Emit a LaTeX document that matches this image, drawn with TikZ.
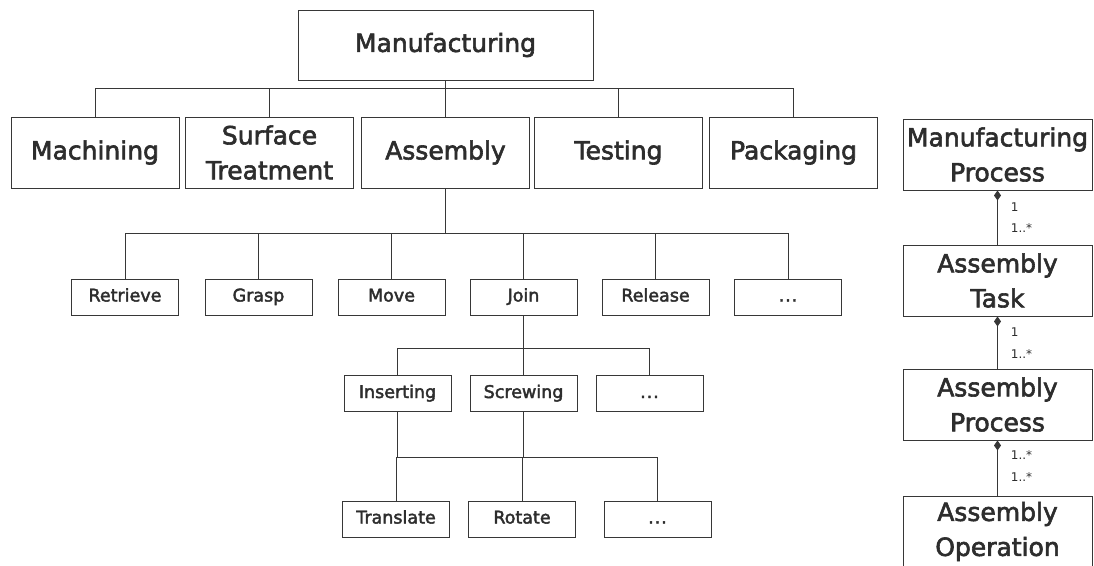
\documentclass[tikz,border=0pt]{standalone}
\usepackage{fontspec}
\setmainfont{DejaVu Sans}
\newfontfamily\boxfont{DejaVu Sans}[FakeBold=2.4]
\usepackage{tikz}
\usetikzlibrary{shapes,arrows.meta,positioning,calc}
\usepackage{xcolor}
\definecolor{boxline}{RGB}{55,55,55}
\definecolor{boxtext}{RGB}{45,45,45}

\begin{document}
\begin{tikzpicture}[x=1pt, y=-1pt,
    box/.style={rectangle, draw=boxline, line width=0.9pt, text=boxtext, align=center, inner sep=0pt},
    bigbox/.style={box, minimum width=168pt, minimum height=71pt, font=\boxfont\fontsize{25}{35}\selectfont},
    smallbox/.style={box, minimum width=107pt, minimum height=36pt, text height=13pt, text depth=4pt, font=\boxfont\fontsize{17.5}{21}\selectfont},
    umlbox/.style={box, minimum width=189pt, minimum height=71pt, font=\boxfont\fontsize{25}{35}\selectfont},
    link/.style={draw=boxline, line width=0.9pt},
    part/.style={link, {Diamond[length=10pt,width=7pt]}-},
    mult/.style={font=\fontsize{12}{14}\selectfont, text=boxtext, inner sep=0pt, right=13pt}
]
    \clip (0,0) rectangle (1094,565);

    \node[box, minimum width=295pt, minimum height=70pt, font=\boxfont\fontsize{25}{35}\selectfont] (mfg) at (445.5,45) {Manufacturing};

    \node[bigbox] (machining) at (95,152.5) {Machining};
    \node[bigbox] (surface) at (269.5,152.5) {Surface\\Treatment};
    \node[bigbox] (assembly) at (445.5,152.5) {Assembly};
    \node[bigbox] (testing) at (618.5,152.5) {Testing};
    \node[bigbox] (packaging) at (793.5,152.5) {Packaging};

    \node[smallbox] (retrieve) at (125,297) {Retrieve};
    \node[smallbox] (grasp) at (258.5,297) {Grasp};
    \node[smallbox] (move) at (391.5,297) {Move};
    \node[smallbox] (join) at (523.5,297) {Join};
    \node[smallbox] (release) at (655.5,297) {Release};
    \node[smallbox] (moresteps) at (788,297) {.\kern1pt.\kern1pt.};

    \node[smallbox] (inserting) at (397.5,393.5) {Inserting};
    \node[smallbox] (screwing) at (523.5,393.5) {Screwing};
    \node[smallbox] (morejoins) at (649.5,393.5) {.\kern1pt.\kern1pt.};

    \node[smallbox] (translate) at (396,519) {Translate};
    \node[smallbox] (rotate) at (522,519) {Rotate};
    \node[smallbox] (moremoves) at (657.5,519) {.\kern1pt.\kern1pt.};

    \node[umlbox] (mproc) at (997.5,154.5) {Manufacturing\\Process};
    \node[umlbox] (atask) at (997.5,280.5) {Assembly\\Task};
    \node[umlbox] (aproc) at (997.5,404.5) {Assembly\\Process};
    \node[umlbox] (aop) at (997.5,531.5) {Assembly\\Operation};

    \coordinate (bus1) at (0,88);
    \coordinate (bus2) at (0,233);
    \coordinate (bus3) at (0,348);
    \coordinate (bus4) at (0,457);

    \draw[link] (mfg.south) -- (mfg.south |- bus1);
    \draw[link] (machining.north) |- (bus1 -| packaging.north) -- (packaging.north);
    \foreach \n in {surface,assembly,testing}
        \draw[link] (\n.north) -- (\n.north |- bus1);

    \draw[link] (assembly.south) -- (assembly.south |- bus2);
    \draw[link] (retrieve.north) |- (bus2 -| moresteps.north) -- (moresteps.north);
    \foreach \n in {grasp,move,join,release}
        \draw[link] (\n.north) -- (\n.north |- bus2);

    \draw[link] (join.south) -- (join.south |- bus3);
    \draw[link] (inserting.north) |- (bus3 -| morejoins.north) -- (morejoins.north);
    \draw[link] (screwing.north) -- (screwing.north |- bus3);

    \draw[link] (inserting.south) -- (inserting.south |- bus4);
    \draw[link] (screwing.south) -- (screwing.south |- bus4);
    \draw[link] (translate.north) |- (bus4 -| moremoves.north) -- (moremoves.north);
    \draw[link] (rotate.north) -- (rotate.north |- bus4);

    \draw[part] (mproc.south) -- node[mult, pos=0.3] {1} node[mult, pos=0.7] {1..*} (atask.north);
    \draw[part] (atask.south) -- node[mult, pos=0.3] {1} node[mult, pos=0.72] {1..*} (aproc.north);
    \draw[part] (aproc.south) -- node[mult, pos=0.27] {1..*} node[mult, pos=0.66] {1..*} (aop.north);
\end{tikzpicture}
\end{document}
